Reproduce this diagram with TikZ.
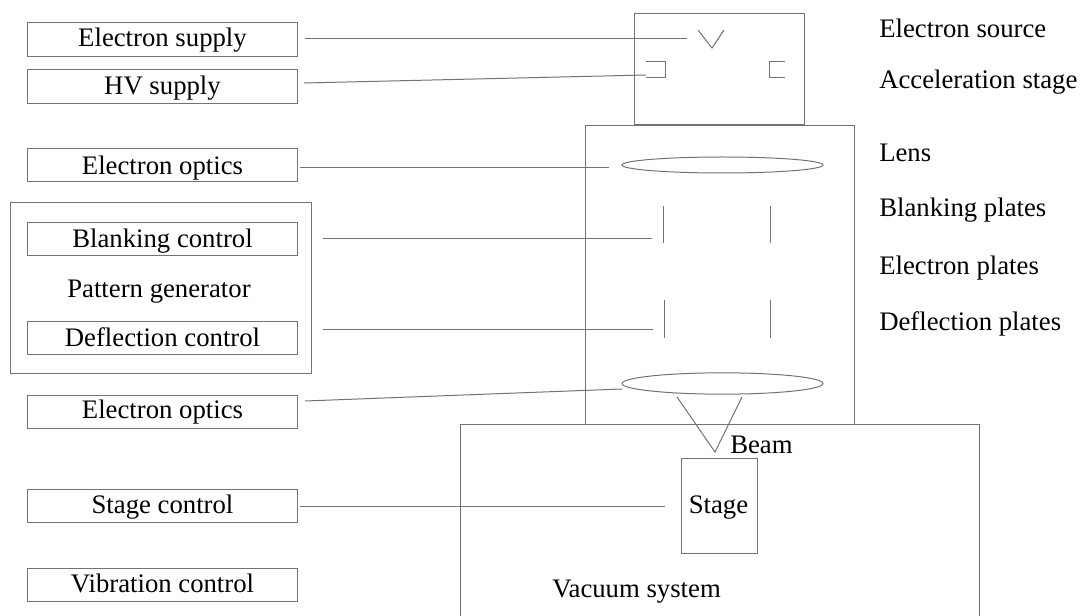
\documentclass[tikz,border=0pt]{standalone}
\usepackage{fontspec}
\setmainfont{Liberation Serif}
\usetikzlibrary{shapes.geometric}
\definecolor{linegray}{gray}{0.45}
\tikzset{
  x=0.75pt,y=-0.75pt,
  every node/.style={font=\fontsize{20.05}{23}\selectfont,text=black},
  ln/.style={draw=linegray,line width=0.75pt},
  ctlbox/.style 2 args={ln,minimum width=202.5pt,minimum height=25pt,inner sep=0pt,anchor=center,text height=#1,text depth=#2},
  frame/.style={ln,inner sep=0pt,anchor=north west},
  lens/.style={ln,ellipse,inner sep=0pt,anchor=center},
  lbl/.style={anchor=base west,inner sep=0pt},
  clbl/.style={anchor=base,inner sep=0pt},
}
\begin{document}
\begin{tikzpicture}
\useasboundingbox (0,0) rectangle (1081,616);
% frames
\node[frame,minimum width=225.75pt,minimum height=128.25pt] (pg) at (9.5,202.5) {};
\node[frame,minimum width=127.5pt,minimum height=83.25pt] (gun) at (633.5,13.5) {};
\node[frame,minimum width=201.75pt,minimum height=223.5pt] (column) at (584.5,125.5) {};
\coordinate (vacBL) at (460.5,616);
\coordinate (vacTL) at (460.5,424.5);
\coordinate (vacTR) at (979.5,424.5);
\coordinate (vacBR) at (979.5,616);
\draw[ln] (vacBL) -- (vacTL) -- (vacTR) -- (vacBR);
% control boxes
\node[ctlbox={18pt}{7pt}] (esupply) at (162.5,39.5) {Electron supply};
\node[ctlbox={18.25pt}{6.75pt}] (hv) at (162.5,86.5) {HV supply};
\node[ctlbox={19.5pt}{5.5pt}] (eo1) at (162.5,165) {Electron optics};
\node[ctlbox={19.1pt}{5.9pt}] (blank) at (162.5,239) {Blanking control};
\node[ctlbox={19.25pt}{5.75pt}] (defl) at (162.5,338) {Deflection control};
\node[ctlbox={17.5pt}{7.5pt}] (eo2) at (162.5,412) {Electron optics};
\node[ctlbox={17.9pt}{7.1pt}] (stagec) at (162.5,506) {Stage control};
\node[ctlbox={17.8pt}{7.2pt}] (vib) at (162.5,585) {Vibration control};
\node[clbl] (pglabel) at (159,297.3) {Pattern generator};
% column parts
\node[lens,minimum width=150.75pt,minimum height=12pt] (lens1) at (722.5,165) {};
\node[lens,minimum width=150.75pt,minimum height=16pt] (lens2) at (722.5,383.5) {};
\node[frame,minimum width=57pt,minimum height=71.25pt] (stage) at (680.5,457.5) {};
\node[clbl] (stagelabel) at (718.5,513.7) {Stage};
% source
\coordinate (va) at (698,30); \coordinate (vb) at (712,48); \coordinate (vc) at (724,30);
\draw[ln] (va) -- (vb) -- (vc);
\coordinate (la) at (646,61.5); \coordinate (lb) at (665.5,61.5); \coordinate (lc) at (665.5,77.5); \coordinate (ld) at (646,77.5);
\draw[ln] (la) -- (lb) -- (lc) -- (ld);
\coordinate (ra) at (785,61.5); \coordinate (rb) at (769.5,61.5); \coordinate (rc) at (769.5,77.5); \coordinate (rd) at (785,77.5);
\draw[ln] (ra) -- (rb) -- (rc) -- (rd);
% plates
\coordinate (bl1) at (663.5,206); \coordinate (bl2) at (663.5,243);
\coordinate (br1) at (770.5,206); \coordinate (br2) at (770.5,243);
\coordinate (dl1) at (664.5,300); \coordinate (dl2) at (664.5,338);
\coordinate (dr1) at (770.5,300); \coordinate (dr2) at (770.5,338);
\draw[ln] (bl1) -- (bl2);
\draw[ln] (br1) -- (br2);
\draw[ln] (dl1) -- (dl2);
\draw[ln] (dr1) -- (dr2);
% beam
\coordinate (ba) at (677,397); \coordinate (bb) at (715,452); \coordinate (bc) at (742,397);
\draw[ln] (ba) -- (bb) -- (bc);
% connectors
\coordinate (c1a) at (305,38.5); \coordinate (c1b) at (687,38.5);
\coordinate (c2a) at (304,83); \coordinate (c2b) at (646,75);
\coordinate (c3a) at (300,167.5); \coordinate (c3b) at (609,167.5);
\coordinate (c4a) at (323,238.5); \coordinate (c4b) at (652,238.5);
\coordinate (c5a) at (323,329.5); \coordinate (c5b) at (653,329.5);
\coordinate (c6a) at (305,401); \coordinate (c6b) at (622,389);
\coordinate (c7a) at (300,506.5); \coordinate (c7b) at (665,506.5);
\draw[ln] (c1a) -- (c1b);
\draw[ln] (c2a) -- (c2b);
\draw[ln] (c3a) -- (c3b);
\draw[ln] (c4a) -- (c4b);
\draw[ln] (c5a) -- (c5b);
\draw[ln] (c6a) -- (c6b);
\draw[ln] (c7a) -- (c7b);
% labels
\node[lbl] (l1) at (879,38) {Electron source};
\node[lbl] (l2) at (879,89) {Acceleration stage};
\node[lbl] (l3) at (879,162) {Lens};
\node[lbl] (l4) at (879,216.7) {Blanking plates};
\node[lbl] (l5) at (879,275) {Electron plates};
\node[lbl] (l6) at (879,330.7) {Deflection plates};
\node[lbl] (l7) at (730,453) {Beam};
\node[lbl] (l8) at (552,597) {Vacuum system};
\end{tikzpicture}
\end{document}
